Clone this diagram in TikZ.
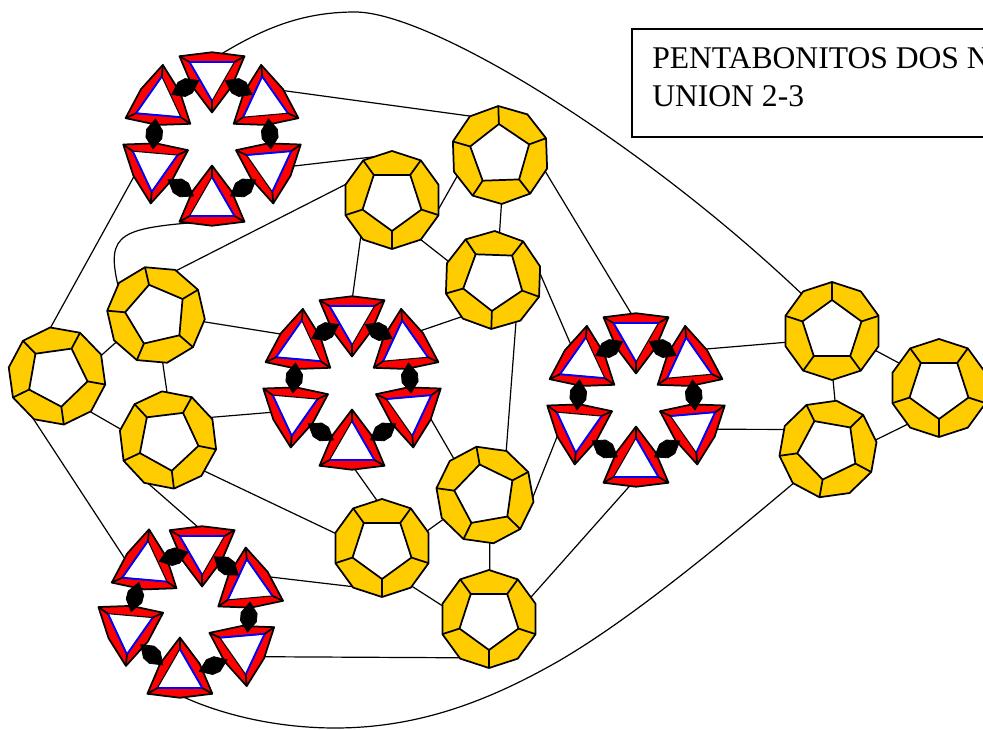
\documentclass[tikz,border=0pt]{standalone}
\usepackage{fontspec}
\setmainfont{Liberation Serif}
\definecolor{pentayellow}{HTML}{FFCC00}
\tikzset{
    ringnode/.style={circle, inner sep=0pt, minimum size=69pt},
    trinode/.style={circle, inner sep=0pt, minimum size=27pt},
    shapeline/.style={line width=1.3pt, line join=round}
}
\tikzset{
    every edge/.append style={line width=0.9pt}
}
\tikzset{
    pics/pentaring/.style={code={
        \filldraw[fill=pentayellow, shapeline]
            (0:49) \foreach \j in {1,...,9} {-- (36*\j:49)} -- cycle;
        \filldraw[fill=white, shapeline]
            (0:31) \foreach \j in {1,...,4} {-- (72*\j:31)} -- cycle;
        \foreach \j in {0,...,4} \draw[shapeline] (72*\j:31) -- (72*\j:49);
    }},
    pics/trishape/.style={code={
        \filldraw[fill=red, shapeline] (-37.5,0) -- (-11.4,-19.7) -- (18.75,-32.5)
            -- (22.75,0) -- (18.75,32.5) -- (-11.4,19.7) -- cycle;
        \filldraw[fill=white, line width=0.8pt] (-26,0) -- (13,-22.5) -- (13,22.5) -- cycle;
        \draw[blue, line width=1.4pt, line join=round] (-26,0) -- (13,-22.5) -- (13,22.5);
        \draw[shapeline] (-26,0) -- (-37.5,0) (13,-22.5) -- (18.75,-32.5) (13,22.5) -- (18.75,32.5);
    }},
    pics/hexaring/.style={code={
        \foreach \k/\a in {1/90,2/35,3/-25,4/-90,5/-155,6/145} {
            \pic[rotate=\a] at ({64*cos(\a)},{-64*sin(\a)}) {trishape};
            \node[trinode] (-t\k) at ({64*cos(\a)},{-64*sin(\a)}) {};
        }
        % joints between neighbouring triangles
        \foreach \m in {62.5,5,-57.5,-122.5,175,117.5}
            \filldraw[line width=0.6pt, shift={({58*cos(\m)},{-58*sin(\m)})}, rotate=\m+90]
                (-15,0) -- (-4,-8) -- (4,-8) -- (15,0) -- (4,8) -- (-4,8) -- cycle;
    }}
}
\pgfdeclarelayer{background}
\pgfsetlayers{background,main}

\begin{document}
\begin{tikzpicture}[x=0.75pt, y=-0.75pt]
	\useasboundingbox (0,0) rectangle (983,730);
	\clip (0,0) rectangle (983,730);

	\node (r1) [ringnode] at (500,155) {}; \pic[rotate=92] at (r1) {pentaring};
	\node (r2) [ringnode] at (392,200) {}; \pic[rotate=270] at (r2) {pentaring};
	\node (r3) [ringnode] at (493,280) {}; \pic[rotate=268] at (r3) {pentaring};
	\node (r4) [ringnode] at (156,315) {}; \pic[rotate=103] at (r4) {pentaring};
	\node (r5) [ringnode] at (57,376) {}; \pic[rotate=278] at (r5) {pentaring};
	\node (r6) [ringnode] at (168,440) {}; \pic[rotate=277] at (r6) {pentaring};
	\node (r7) [ringnode] at (382,548) {}; \pic[rotate=270] at (r7) {pentaring};
	\node (r8) [ringnode] at (485,495) {}; \pic[rotate=100] at (r8) {pentaring};
	\node (r9) [ringnode] at (489,619) {}; \pic[rotate=270] at (r9) {pentaring};
	\node (r10) [ringnode] at (832,331) {}; \pic[rotate=90] at (r10) {pentaring};
	\node (r11) [ringnode] at (828,449) {}; \pic[rotate=260] at (r11) {pentaring};
	\node (r12) [ringnode] at (939,388) {}; \pic[rotate=270] at (r12) {pentaring};

	\pic (c1) at (212,139) {hexaring};
	\pic (c2) at (352,383) {hexaring};
	\pic (c3) at (636,400) {hexaring};
	\pic[rotate=-10] (c4) at (191,612) {hexaring};

	\begin{pgfonlayer}{background}
	\draw (c1-t2.43) edge (r1.124); \draw (c1-t3.-2) edge (r2.83);
	\draw (c1-t5.-162) edge (r5.100);
	\draw (r2.158) edge (r4.68); \draw (r2.-16) edge (r1.-155);
	\draw (r2.-55) edge (r3.158); \draw (r2.-132) edge (c2-t1.90);
	\draw (r4.-8) edge (c2-t6.141); \draw (r5.24) edge (r4.-146);
	\draw (r4.-82) edge (r6.91); \draw (c2-t2.50) edge (r3.-129);
	\draw (r1.-88) edge (r3.82); \draw (r1.-18) edge (c3-t1.97);
	\draw (r3.15) edge (c3-t6.127); \draw (r3.-60) edge (r8.63);
	\draw (c3-t2.49) edge (r10.-166); \draw (r10.-24) edge (r12.148);
	\draw (r10.-89) edge (r11.81); \draw (c3-t3.-7) edge (r11.155);
	\draw (r11.10) edge (r12.-130); \draw (c3-t5.-172) edge (r8.-10);
	\draw (c3-t4.261) edge (r9.27);
	\draw (r5.-126) edge (c4-t6.169); \draw (r6.29) edge (c2-t5.-174);
	\draw (r5.-48) edge (r6.168); \draw (r6.-41) edge (r7.163);
	\draw (r6.-123) edge (c4-t1.90); \draw (c2-t4.-90) edge (r7.95);
	\draw (c2-t3.-12) edge (r8.131); \draw (r7.20) edge (r8.-150);
	\draw (r8.-84) edge (r9.89); \draw (c4-t2.28) edge (r7.-122);
	\draw (r7.-53) edge (r9.165); \draw (c4-t3.-26) edge (r9.-123);

	% long curved links
	\draw[line width=0.9pt] (c1-t1.77) .. controls (260,30) and (300,12) .. (355,12)
		.. controls (430,12) and (640,140) .. (r10.129);
	\draw[line width=0.9pt] (c1-t4.266) .. controls (120,228) and (105,232) .. (r4.144);
	\draw[line width=0.9pt] (c4-t4.-116) .. controls (220,716) and (280,728) .. (335,728)
		.. controls (420,728) and (490,700) .. (557,662)
		.. controls (630,620) and (720,545) .. (r11.-135);
	\end{pgfonlayer}

	\draw[line width=0.9pt] (632,29) rectangle (1000,137);
	\node (title) [anchor=north west, inner sep=0pt, align=left,
		font=\fontsize{23.7pt}{28.5pt}\selectfont] at (652,47.6)
		{PENTABONITOS DOS N\\UNION 2-3};
\end{tikzpicture}
\end{document}
